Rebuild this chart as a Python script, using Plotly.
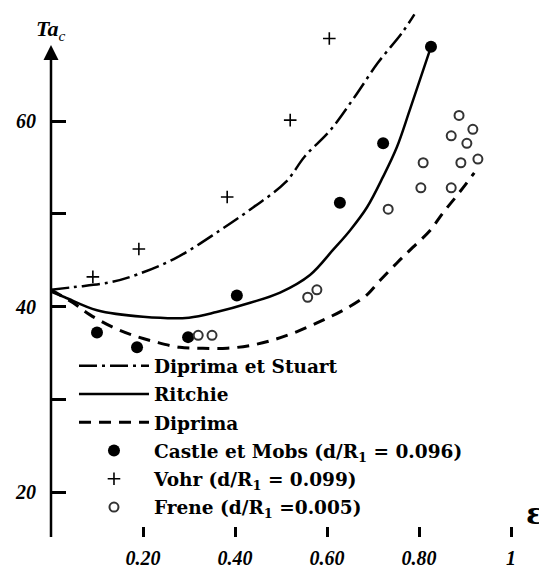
import plotly.graph_objects as go

# ---- data ----
stuart_x = [0.0, 0.05, 0.128, 0.19, 0.274, 0.367, 0.44, 0.51, 0.552, 0.607, 0.66, 0.711, 0.763, 0.79]
stuart_y = [41.8, 42.1, 42.6, 43.5, 45.3, 48.2, 50.7, 53.4, 56.2, 59.0, 62.6, 66.3, 69.5, 71.5]

ritchie_x = [0.0, 0.03, 0.1, 0.2, 0.3, 0.36, 0.433, 0.498, 0.563, 0.613, 0.65, 0.687, 0.722, 0.752, 0.78, 0.824]
ritchie_y = [41.6, 41.0, 39.6, 38.9, 38.8, 39.4, 40.4, 41.5, 43.4, 46.1, 48.2, 50.7, 54.0, 57.2, 61.2, 67.7]

diprima_x = [0.0, 0.048, 0.085, 0.133, 0.178, 0.226, 0.28, 0.33, 0.383, 0.433, 0.483, 0.535, 0.59, 0.635,
             0.683, 0.715, 0.752, 0.787, 0.824, 0.852, 0.883, 0.92]
diprima_y = [41.8, 40.4, 39.1, 37.8, 36.9, 36.2, 35.6, 35.5, 35.5, 35.8, 36.4, 37.3, 38.5, 39.6,
             41.1, 42.8, 44.7, 46.4, 48.2, 50.1, 52.0, 54.4]

castle_x = [0.10, 0.187, 0.298, 0.404, 0.628, 0.722, 0.826]
castle_y = [37.2, 35.6, 36.7, 41.2, 51.2, 57.6, 68.0]

vohr_x = [0.091, 0.191, 0.383, 0.52, 0.605]
vohr_y = [43.2, 46.2, 51.8, 60.1, 68.9]

frene_x = [0.32, 0.35, 0.558, 0.578, 0.733, 0.804, 0.809, 0.870, 0.891, 0.870, 0.904, 0.887, 0.917, 0.928]
frene_y = [36.9, 36.9, 41.0, 41.8, 50.5, 52.8, 55.5, 52.8, 55.5, 58.4, 57.6, 60.6, 59.1, 55.9]

x_tickvals = [0.2, 0.4, 0.6, 0.8, 1.0]
x_ticktext = ["0.20", "0.40", "0.60", "0.80", "1"]
y_tickvals = [20, 30, 40, 50, 60]
y_ticktext = ["20", "", "40", "", "60"]

names = ["Diprima et Stuart", "Ritchie", "Diprima",
         "Castle et Mobs (d/R<sub>1</sub> = 0.096)",
         "Vohr (d/R<sub>1</sub> = 0.099)",
         "Frene (d/R<sub>1</sub> =0.005)"]

SERIF = "Liberation Serif"
LEGEND_FONT = "DejaVu Serif"

fig = go.Figure()
fig.add_trace(go.Scatter(x=stuart_x, y=stuart_y, mode="lines", name="<b>" + names[0] + "</b>",
                         legendgroup="g1",
                         line=dict(color="black", width=2.5, dash="18px,5px,3px,5px"), line_shape="spline"))
fig.add_trace(go.Scatter(x=ritchie_x, y=ritchie_y, mode="lines", name="<b>" + names[1] + "</b>",
                         legendgroup="g2",
                         line=dict(color="black", width=2.5), line_shape="spline"))
fig.add_trace(go.Scatter(x=diprima_x, y=diprima_y, mode="lines", name="<b>" + names[2] + "</b>",
                         legendgroup="g3",
                         line=dict(color="black", width=3, dash="12px,8px"), line_shape="spline"))
fig.add_trace(go.Scatter(x=castle_x, y=castle_y, mode="markers", name="<b>" + names[3] + "</b>",
                         legendgroup="g4",
                         marker=dict(symbol="circle", size=12, color="black")))
fig.add_trace(go.Scatter(x=vohr_x, y=vohr_y, mode="markers", name="<b>" + names[4] + "</b>",
                         legendgroup="g5",
                         marker=dict(symbol="cross-thin", size=9, color="black",
                                     line=dict(color="black", width=1.6))))
fig.add_trace(go.Scatter(x=frene_x, y=frene_y, mode="markers", name="<b>" + names[5] + "</b>",
                         legendgroup="g6",
                         marker=dict(symbol="circle-open", size=9, color="#333333",
                                     line=dict(color="#333333", width=2))))

tickfont = dict(family=SERIF, size=20, color="black")

fig.update_layout(
    width=547, height=569,
    margin=dict(l=43, r=15, t=2, b=40),
    paper_bgcolor="white", plot_bgcolor="white",
    showlegend=True,
    legend=dict(x=0.047, y=0.36, xanchor="left", yanchor="top",
                bgcolor="rgba(0,0,0,0)", itemwidth=70,
                font=dict(family=LEGEND_FONT, size=18.5, color="black"),
                traceorder="grouped", tracegroupgap=1.2),
    xaxis=dict(range=[0, 1.063], showgrid=False, zeroline=False, showline=False,
               tickvals=x_tickvals, ticktext=["<b><i>" + t + "</i></b>" for t in x_ticktext],
               ticks="inside", ticklen=10, ticklabelstandoff=7,
               tickwidth=2.5, tickcolor="black", tickfont=tickfont),
    yaxis=dict(range=[15.15, 71.97], showgrid=False, zeroline=False, showline=False,
               tickvals=y_tickvals, ticktext=["<b><i>" + t + "</i></b>" if t else "" for t in y_ticktext],
               ticks="inside", ticklen=15,
               tickwidth=2.5, tickcolor="black", tickfont=tickfont, ticklabelstandoff=14),
)

# axes drawn as arrows
fig.add_annotation(x=1.068, y=15.15, ax=-0.005, ay=15.15, xref="x", yref="y", axref="x", ayref="y",
                   text="", showarrow=True, arrowhead=2, arrowsize=1.2, arrowwidth=2.5,
                   arrowcolor="black", standoff=0)
fig.add_annotation(x=0, y=68.2, ax=0, ay=15.0, xref="x", yref="y", axref="x", ayref="y",
                   text="", showarrow=True, arrowhead=2, arrowsize=1.2, arrowwidth=2.5,
                   arrowcolor="black", standoff=0)

fig.add_annotation(x=-0.002, y=0.962, xref="paper", yref="paper", showarrow=False,
                   xanchor="center", yanchor="middle",
                   text="<i><b>Ta</b></i><sub><i>c</i></sub>",
                   font=dict(family=SERIF, size=22, color="black"))
fig.add_annotation(x=0.99, y=0.045, xref="paper", yref="paper", showarrow=False,
                   xanchor="center", yanchor="middle",
                   text="<b>ε</b>", font=dict(family=LEGEND_FONT, size=30, color="black"))

fig.write_html("out.html")
